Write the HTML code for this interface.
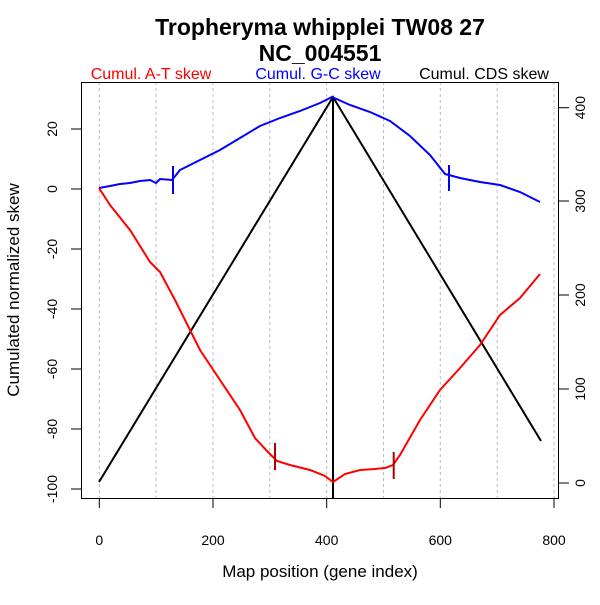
<!DOCTYPE html><html><head><style>body{margin:0;background:#fff}</style></head><body>
<svg width="600" height="600" xmlns="http://www.w3.org/2000/svg" font-family="Liberation Sans, sans-serif">
<rect width="600" height="600" fill="#fff"/>
<g stroke="#bbb" stroke-dasharray="3,3" stroke-width="1">
<line x1="99.3" y1="82" x2="99.3" y2="498"/><line x1="156.1" y1="82" x2="156.1" y2="498"/><line x1="213" y1="82" x2="213" y2="498"/><line x1="269.8" y1="82" x2="269.8" y2="498"/><line x1="326.7" y1="82" x2="326.7" y2="498"/><line x1="383.5" y1="82" x2="383.5" y2="498"/><line x1="440.3" y1="82" x2="440.3" y2="498"/><line x1="497.2" y1="82" x2="497.2" y2="498"/><line x1="554" y1="82" x2="554" y2="498"/>
</g>
<rect x="81.5" y="82.5" width="477" height="416" fill="none" stroke="#000"/>
<g stroke="#000">
<line x1="99.3" y1="498" x2="99.3" y2="508"/><line x1="213" y1="498" x2="213" y2="508"/><line x1="326.7" y1="498" x2="326.7" y2="508"/><line x1="440.3" y1="498" x2="440.3" y2="508"/><line x1="554" y1="498" x2="554" y2="508"/>
<line x1="71" y1="489" x2="81" y2="489"/><line x1="71" y1="429" x2="81" y2="429"/><line x1="71" y1="369" x2="81" y2="369"/><line x1="71" y1="309" x2="81" y2="309"/><line x1="71" y1="249" x2="81" y2="249"/><line x1="71" y1="189" x2="81" y2="189"/><line x1="71" y1="129" x2="81" y2="129"/>
<line x1="559" y1="483" x2="569" y2="483"/><line x1="559" y1="389" x2="569" y2="389"/><line x1="559" y1="295" x2="569" y2="295"/><line x1="559" y1="201" x2="569" y2="201"/><line x1="559" y1="107.7" x2="569" y2="107.7"/>
</g>
<g font-size="14" text-anchor="middle">
<text x="99.3" y="545">0</text><text x="213" y="545">200</text><text x="326.7" y="545">400</text><text x="440.3" y="545">600</text><text x="554" y="545">800</text>
</g>
<g font-size="14" text-anchor="middle">
<text transform="translate(57,489) rotate(-90)">-100</text><text transform="translate(57,429) rotate(-90)">-80</text><text transform="translate(57,369) rotate(-90)">-60</text><text transform="translate(57,309) rotate(-90)">-40</text><text transform="translate(57,249) rotate(-90)">-20</text><text transform="translate(57,189) rotate(-90)">0</text><text transform="translate(57,129) rotate(-90)">20</text>
<text transform="translate(585,483) rotate(-90)">0</text><text transform="translate(585,389) rotate(-90)">100</text><text transform="translate(585,295) rotate(-90)">200</text><text transform="translate(585,201) rotate(-90)">300</text><text transform="translate(585,107.7) rotate(-90)">400</text>
</g>
<text x="320" y="577" font-size="17" text-anchor="middle">Map position (gene index)</text>
<text transform="translate(19,290) rotate(-90)" font-size="17" text-anchor="middle">Cumulated normalized skew</text>
<text x="320" y="35" font-size="23" font-weight="bold" text-anchor="middle">Tropheryma whipplei TW08 27</text>
<text x="320" y="61" font-size="23" font-weight="bold" text-anchor="middle">NC_004551</text>
<text x="151" y="79" font-size="16" fill="#f00" text-anchor="middle">Cumul. A-T skew</text>
<text x="318" y="79" font-size="16" fill="#00f" text-anchor="middle">Cumul. G-C skew</text>
<text x="484" y="79" font-size="16" fill="#000" text-anchor="middle">Cumul. CDS skew</text>
<polyline fill="none" stroke="#000" stroke-width="2" points="99,482 333,97 541,441"/>
<line x1="333" y1="97" x2="333" y2="498" stroke="#000" stroke-width="2"/>
<polyline fill="none" stroke="#00f" stroke-width="2" points="99,188 110,186 120,184 130,183 140,181 150,180 156,183 160,179 172,180 180,170 200,160 220,150 240,138 260,126 280,118 300,111 320,103 332,97 350,105 370,112 390,121 410,136 430,155 445,174 460,178 480,182 500,185 520,192 540,202"/>
<line x1="173" y1="166" x2="173" y2="194" stroke="#00f" stroke-width="2"/>
<line x1="449" y1="165" x2="449" y2="191" stroke="#00f" stroke-width="2"/>
<polyline fill="none" stroke="#f00" stroke-width="2" points="99,188 110,205 130,230 150,262 160,272 175,300 190,330 200,350 220,380 240,410 255,438 268,452 277,461 290,465 310,470 325,476 333,482 345,474 360,470 375,469 385,468 393,465 400,455 420,420 440,390 460,368 480,345 500,315 520,298 540,274"/>
<line x1="275" y1="443" x2="275" y2="470" stroke="#a00" stroke-width="2"/>
<line x1="393.7" y1="452" x2="393.7" y2="479" stroke="#a00" stroke-width="2"/>
</svg>
</body></html>
